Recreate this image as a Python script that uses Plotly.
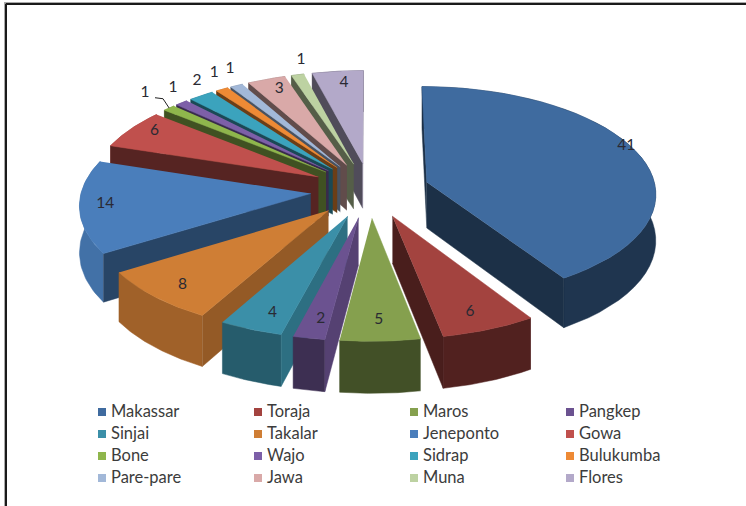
import numpy as np
import plotly.graph_objects as go

# data
categories = ["Makassar", "Toraja", "Maros", "Pangkep", "Sinjai", "Takalar", "Jeneponto", "Gowa",
              "Bone", "Wajo", "Sidrap", "Bulukumba", "Pare-pare", "Jawa", "Muna", "Flores"]
values = [41, 6, 5, 2, 4, 8, 14, 6, 1, 1, 2, 1, 1, 3, 1, 4]
colors = ["#3f6b9f", "#a3433f", "#85a04e", "#6b5290", "#3b8fa8", "#cf7e35", "#4a7ebb", "#c0504d",
          "#8fb64c", "#7d5fa8", "#3ba3bd", "#ee8a35", "#a2b8d8", "#d9a9a8", "#bdd2a2", "#b3a9c9"]

# label placement (radius as share of pie radius, degrees away from the slice middle)
label_r = [0.98, 0.85, 0.84, 0.85, 0.86, 0.86, 0.89, 0.89, 1.21, 1.16, 1.15, 1.18, 1.19, 0.87, 1.17, 0.86]
label_shift = [-5, 1, 0, -1, -2, -1, 1, 2, 2, 4, 4, 3, 3, 1, 3, 1]

# view of the tilted pie
CX, CY = 370, 190
RX, RY = 229, 106
PERSP = 0.093
EXPLODE = 0.26
DEPTH = 46


def project(u, v, low=False):
    s = 1 / (1 + PERSP * v)
    y = CY - v * s * RY
    if low:
        y = y + DEPTH * s
    return CX + u * s * RX, y


def shade(hex_color, f):
    r, g, b = [int(hex_color[i:i + 2], 16) for i in (1, 3, 5)]
    return "rgb(%d,%d,%d)" % (r * f, g * f, b * f)


def face(xs, ys, color):
    return go.Scatter(x=xs, y=ys, mode="lines", fill="toself", fillcolor=color,
                      line=dict(color=color, width=0.5), hoverinfo="skip", showlegend=False)


def wall_shows(p, q, r):
    # a cut wall hangs below its edge p-q, it only shows if the slice top r is above that edge
    edge_y = p[1] + (q[1] - p[1]) * (r[0] - p[0]) / (q[0] - p[0] + 1e-9)
    return r[1] < edge_y


fig = go.Figure()

edges = np.cumsum([0] + values) / sum(values) * 2 * np.pi
mids = (edges[:-1] + edges[1:]) / 2

# back slices first so the front ones paint over them
for i in sorted(range(len(values)), key=lambda k: -np.cos(mids[k])):
    a0, a1, mid = edges[i], edges[i + 1], mids[i]
    ox, oy = EXPLODE * np.sin(mid), EXPLODE * np.cos(mid)
    t = np.linspace(a0, a1, 40)
    au, av = ox + np.sin(t), oy + np.cos(t)
    apex = project(ox, oy)
    arc_mid = project(ox + np.sin(mid), oy + np.cos(mid))

    # outer wall, lit a bit more on the left side
    f = 0.5 + 0.4 * max(0, -np.sin(mid))
    tx, ty = project(au, av)
    bx, by = project(au, av, True)
    fig.add_trace(face(list(tx) + list(bx[::-1]), list(ty) + list(by[::-1]), shade(colors[i], f)))

    # the two cut walls
    for a, side in ((a0, -1), (a1, 1)):
        ru, rv = ox + np.sin(a), oy + np.cos(a)
        if not wall_shows(apex, project(ru, rv), arc_mid):
            continue
        nu = side * np.cos(a)
        f = 0.45 + 0.35 * max(0, nu) ** 2
        p = [apex, project(ru, rv), project(ru, rv, True), project(ox, oy, True)]
        fig.add_trace(face([q[0] for q in p], [q[1] for q in p], shade(colors[i], f)))

    # top
    fig.add_trace(face([apex[0]] + list(tx), [apex[1]] + list(ty), colors[i]))

# data labels
label_x, label_y = [], []
for i in range(len(values)):
    mid = mids[i]
    phi = mid + np.radians(label_shift[i])
    lx, ly = project(EXPLODE * np.sin(mid) + label_r[i] * np.sin(phi),
                     EXPLODE * np.cos(mid) + label_r[i] * np.cos(phi))
    label_x.append(lx)
    label_y.append(ly)
fig.add_trace(go.Scatter(x=label_x, y=label_y, mode="text", text=[str(v) for v in values],
                         textfont=dict(family="Lato", size=15.5, color="#2a2a33"),
                         hoverinfo="skip", showlegend=False))

# leader line of the Bone label
bone = categories.index("Bone")
end_x, end_y = project(EXPLODE * np.sin(mids[bone]) + np.sin(mids[bone]),
                       EXPLODE * np.cos(mids[bone]) + np.cos(mids[bone]))
fig.add_trace(go.Scatter(x=[label_x[bone] + 10, label_x[bone] + 18, end_x],
                         y=[label_y[bone] + 5, label_y[bone] + 6, end_y],
                         mode="lines", line=dict(color="#222222", width=1),
                         hoverinfo="skip", showlegend=False))

# legend, four columns
for i, name in enumerate(categories):
    sx, sy = 102 + 156 * (i % 4), 412 + 22 * (i // 4)
    fig.add_trace(go.Scatter(x=[sx], y=[sy], mode="markers",
                             marker=dict(symbol="square", size=8, color=colors[i]),
                             hoverinfo="skip", showlegend=False))
    fig.add_trace(go.Scatter(x=[sx + 9], y=[sy + 1], mode="text",
                             text=[name], textposition="middle right",
                             textfont=dict(family="Lato", size=16.5, color="#3c3c3c"),
                             hoverinfo="skip", showlegend=False))

fig.update_layout(
    width=746, height=506,
    margin=dict(l=0, r=0, t=0, b=0),
    paper_bgcolor="white", plot_bgcolor="white",
    showlegend=False,
    xaxis=dict(range=[0, 746], visible=False, fixedrange=True),
    yaxis=dict(range=[506, 0], visible=False, fixedrange=True),
    shapes=[
        dict(type="line", x0=5.5, x1=746, y0=4, y1=4, line=dict(color="#1a1a1a", width=2)),
        dict(type="line", x0=6, x1=6, y0=4, y1=506, line=dict(color="#1a1a1a", width=2)),
        dict(type="line", x0=4, x1=746, y0=2.5, y1=2.5, line=dict(color="#aaaaaa", width=1)),
        dict(type="line", x0=4.5, x1=4.5, y0=2.5, y1=506, line=dict(color="#aaaaaa", width=1)),
    ],
)

fig.write_html("out.html", post_script="document.body.style.margin='0';document.body.style.overflow='hidden';",
               config=dict(displayModeBar=False))
